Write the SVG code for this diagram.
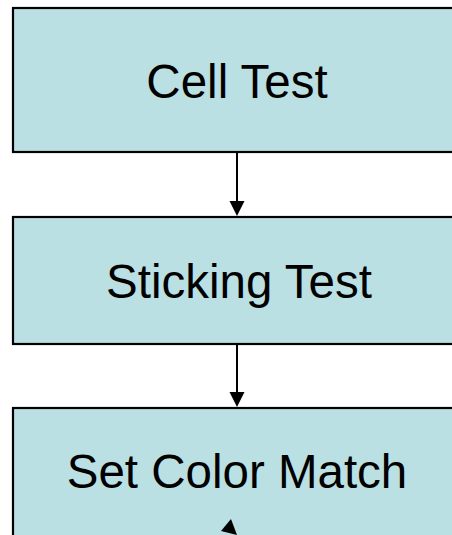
<svg xmlns="http://www.w3.org/2000/svg" width="452" height="535" viewBox="0 0 452 535">
<style>
.box{fill:#BAE0E3;stroke:#000;stroke-width:2.2}
.lbl{font-family:"Liberation Sans",Arial,sans-serif;font-size:47.5px;fill:#000;text-anchor:middle}
.edge{stroke:#000;stroke-width:2;fill:none}
.head{fill:#000}
</style>
<rect width="452" height="535" fill="#fff"/>
<g id="node-cell-test">
<rect class="box" x="13" y="8" width="460" height="144"/>
<text class="lbl" x="237" y="98">Cell Test</text>
</g>
<g id="node-sticking-test">
<rect class="box" x="13" y="217" width="460" height="127"/>
<text class="lbl" x="239" y="298">Sticking Test</text>
</g>
<g id="node-set-color-match">
<rect class="box" x="13" y="408" width="460" height="150"/>
<text class="lbl" x="237" y="488">Set Color Match</text>
</g>
<g id="connectors">
<line class="edge" x1="237" y1="152" x2="237" y2="202"/>
<polygon class="head" points="229.5,201 244.5,201 237,216"/>
<line class="edge" x1="237" y1="344" x2="237" y2="393"/>
<polygon class="head" points="229.5,392 244.5,392 237,407"/>
<polygon class="head" points="231,519 221,531 237,535"/>
</g>
</svg>
